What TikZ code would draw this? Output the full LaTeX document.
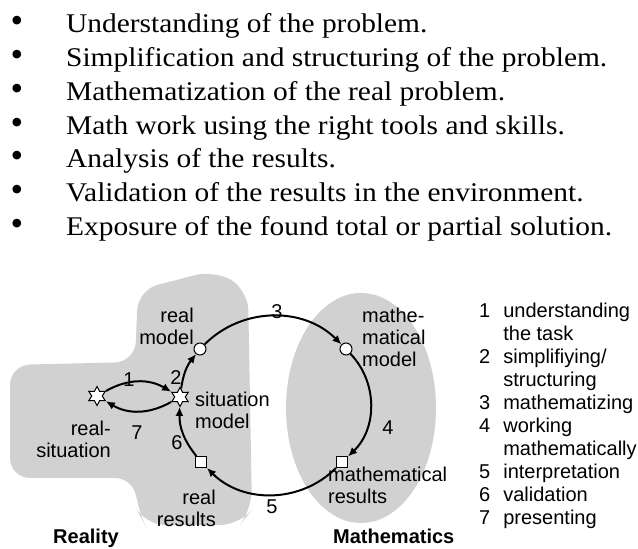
\documentclass[tikz,border=0pt]{standalone}
\usepackage{fontspec}
\setmainfont{Liberation Serif}
\newfontfamily\bodyfont[FakeStretch=1.09]{Liberation Serif}
\newfontfamily\arialfont{Liberation Sans}
\usetikzlibrary{arrows.meta, shapes.geometric}

\tikzset{
  lbl/.style={font=\arialfont\fontsize{20}{22}\selectfont, inner sep=0pt},
  num/.style={font=\arialfont\fontsize{20}{22}\selectfont, inner sep=0pt},
  starnode/.style={star, star points=6, star point ratio=1.8, draw, fill=white,
                   line width=1pt, minimum size=19pt, inner sep=0pt},
  dotnode/.style={circle, draw, fill=white, line width=1pt, minimum size=12pt, inner sep=0pt},
  boxnode/.style={rectangle, draw, fill=white, line width=1pt, minimum size=11pt, inner sep=0pt},
  cycle/.style={line width=2pt, -{Latex[length=9pt,width=8pt]}},
  item/.style={font=\bodyfont\fontsize{27}{30}\selectfont, inner sep=0pt, anchor=base west}
}

\begin{document}
\begin{tikzpicture}[x=1pt, y=1pt]

  \useasboundingbox (0,0) rectangle (638,549);

  % Bullet list
  \foreach \txt [count=\i] in {Understanding of the problem.,
      Simplification and structuring of the problem.,
      Mathematization of the real problem.,
      Math work using the right tools and skills.,
      Analysis of the results.,
      Validation of the results in the environment.,
      Exposure of the found total or partial solution.} {
    \node[item] (item\i) at (66, {516-33.67*(\i-1)}) {\txt};
    \node[item, anchor=base, font=\fontsize{36}{36}\selectfont] (dot\i) at (17, {516-33.67*(\i-1)}) {\textbullet};
  }

  % Regions
  \fill[black!18, rounded corners=20pt] (10,184) -- (135,187) -- (138,259) -- (215,279)
    -- (248,259) -- (252,39) -- (240,24) -- (145,24) -- (137,39) -- (135,71) -- (10,71) -- cycle;
  \fill[black!18] (361,141) ellipse [x radius=75, y radius=115];

  % Stations of the cycle
  \node[starnode] (rs) at (97,153) {};
  \node[starnode] (sm) at (180,152) {};
  \node[dotnode] (rm) at (200,200) {};
  \node[dotnode] (mm) at (346,200) {};
  \node[boxnode] (mr) at (342,87) {};
  \node[boxnode] (rr) at (201,87) {};

  % Steps
  \draw[cycle] (rs) to[bend left=30] (sm);
  \draw[cycle] (sm) to[bend left=15] (rm);
  \draw[cycle] (rm) to[bend left=45] (mm);
  \draw[cycle] (mm) to[bend left=45] (mr);
  \draw[cycle] (mr) to[bend left=45] (rr);
  \draw[cycle] (rr) to[bend left=20] (sm);
  \draw[cycle] (sm) to[bend left=30] (rs);

  % Labels
  \node[lbl, align=right, anchor=east] (rmlabel) at (194,223) {real\\model};
  \node[lbl, align=left, anchor=west] (mmlabel) at (362,212) {mathe-\\matical\\model};
  \node[lbl, align=left, anchor=west] (smlabel) at (195,139) {situation\\model};
  \node[lbl, align=right, anchor=east] (rslabel) at (111,110) {real-\\situation};
  \node[lbl, align=left, anchor=west] (mrlabel) at (328,64) {mathematical\\results};
  \node[lbl, align=right, anchor=east] (rrlabel) at (216,41) {real\\results};

  \node[num] (n1) at (129,169) {1};
  \node[num] (n2) at (176,171) {2};
  \node[num] (n3) at (277,237) {3};
  \node[num] (n4) at (388,121) {4};
  \node[num] (n5) at (272,42) {5};
  \node[num] (n6) at (177,106) {6};
  \node[num] (n7) at (137,116) {7};

  \node[lbl, font=\arialfont\bfseries\fontsize{20}{22}\selectfont, anchor=base west] (reality) at (53,5) {Reality};
  \node[lbl, font=\arialfont\bfseries\fontsize{20}{22}\selectfont, anchor=base west] (maths) at (333,5) {Mathematics};

  % Legend
  \node[lbl, anchor=west, font=\arialfont\fontsize{20}{23}\selectfont] (legend) at (479,133) {%
    \begin{tabular}{@{}r@{\hspace{13pt}}l@{}}
      1 & understanding\\
        & the task\\
      2 & simplifiying/\\
        & structuring\\
      3 & mathematizing\\
      4 & working\\
        & mathematically\\
      5 & interpretation\\
      6 & validation\\
      7 & presenting
    \end{tabular}};

\end{tikzpicture}
\end{document}
